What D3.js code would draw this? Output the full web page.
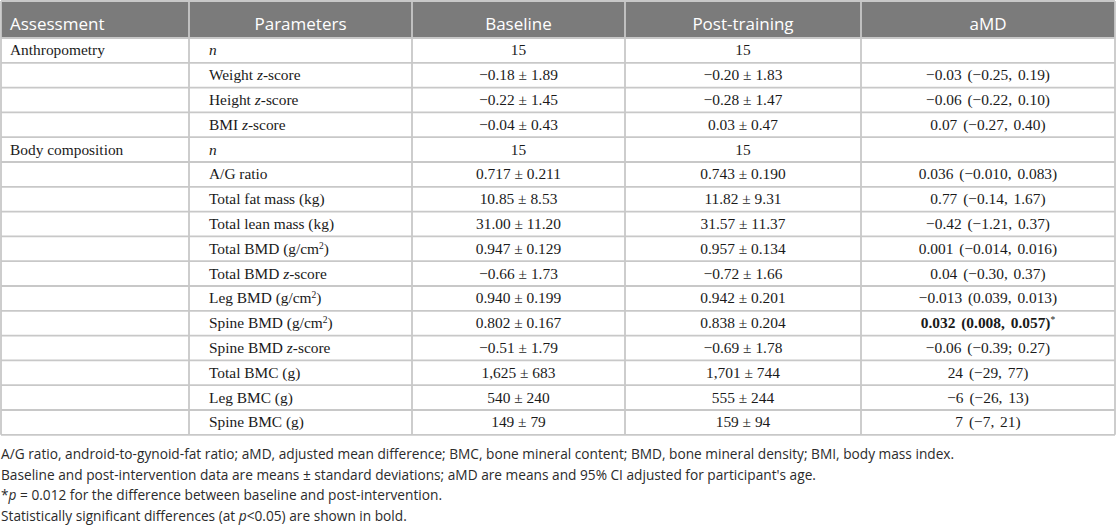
<!DOCTYPE html>
<html lang="en">
<head>
  <meta charset="UTF-8">
  <title>Body composition table</title>
  <script src="https://d3js.org/d3.v7.min.js"></script>
  <style>
    body { margin: 0; background: #fff; }
    .head { font-family: "Open Sans", sans-serif; font-size: 17px; fill: #fff; }
    .cell { font-family: "Liberation Serif", serif; font-size: 15.4px; fill: #1a1a1a; }
    .amd { word-spacing: 2px; }
    .note { font-family: "Open Sans", sans-serif; font-size: 13.7px; fill: #2b2b2b; }
  </style>
</head>
<body>
  <svg width="1116" height="525"></svg>

  <script>
    // markup: _x_ italic, ^x^ superscript, *x* bold
    const headers = ["Assessment", "Parameters", "Baseline", "Post-training", "aMD"];

    const assessments = ["Anthropometry", "", "", "",
      "Body composition", "", "", "", "", "", "", "", "", "", "", ""];

    const parameters = ["_n_", "Weight _z_-score", "Height _z_-score", "BMI _z_-score",
      "_n_", "A/G ratio", "Total fat mass (kg)", "Total lean mass (kg)",
      "Total BMD (g/cm^2^)", "Total BMD _z_-score", "Leg BMD (g/cm^2^)",
      "Spine BMD (g/cm^2^)", "Spine BMD _z_-score", "Total BMC (g)",
      "Leg BMC (g)", "Spine BMC (g)"];

    const baseline = ["15", "−0.18 ± 1.89", "−0.22 ± 1.45", "−0.04 ± 0.43",
      "15", "0.717 ± 0.211", "10.85 ± 8.53", "31.00 ± 11.20",
      "0.947 ± 0.129", "−0.66 ± 1.73", "0.940 ± 0.199",
      "0.802 ± 0.167", "−0.51 ± 1.79", "1,625 ± 683",
      "540 ± 240", "149 ± 79"];

    const postTraining = ["15", "−0.20 ± 1.83", "−0.28 ± 1.47", "0.03 ± 0.47",
      "15", "0.743 ± 0.190", "11.82 ± 9.31", "31.57 ± 11.37",
      "0.957 ± 0.134", "−0.72 ± 1.66", "0.942 ± 0.201",
      "0.838 ± 0.204", "−0.69 ± 1.78", "1,701 ± 744",
      "555 ± 244", "159 ± 94"];

    const amd = ["", "−0.03 (−0.25, 0.19)", "−0.06 (−0.22, 0.10)", "0.07 (−0.27, 0.40)",
      "", "0.036 (−0.010, 0.083)", "0.77 (−0.14, 1.67)", "−0.42 (−1.21, 0.37)",
      "0.001 (−0.014, 0.016)", "0.04 (−0.30, 0.37)", "−0.013 (0.039, 0.013)",
      "*0.032 (0.008, 0.057)*^*^", "−0.06 (−0.39; 0.27)", "24 (−29, 77)",
      "−6 (−26, 13)", "7 (−7, 21)"];

    const notes = [
      "A/G ratio, android-to-gynoid-fat ratio; aMD, adjusted mean difference; BMC, bone mineral content; BMD, bone mineral density; BMI, body mass index.",
      "Baseline and post-intervention data are means ± standard deviations; aMD are means and 95% CI adjusted for participant's age.",
      "*_p_ = 0.012 for the difference between baseline and post-intervention.",
      "Statistically significant differences (at _p_<0.05) are shown in bold."
    ];

    const colEdges = [1, 189, 412, 625, 861, 1115];
    const colAlign = ["start", "start", "middle", "middle", "middle"];
    const headAlign = ["start", "middle", "middle", "middle", "middle"];
    const indent = [9, 20, 0, 0, 0];

    const headH = 37, tableTop = 1, rowH = 24.8;
    const nRows = parameters.length;
    const tableBottom = tableTop + headH + rowH * nRows;

    const svg = d3.select("svg");

    const x = d3.scaleOrdinal().domain(headers).range(colEdges.slice(0, 5));
    const xEnd = d3.scaleOrdinal().domain(headers).range(colEdges.slice(1));
    const y = d3.scaleBand()
      .domain(d3.range(nRows))
      .range([tableTop + headH, tableBottom])
      .paddingInner(0);

    function textX(ci, align) {
      const col = headers[ci];
      if (align === "start") return x(col) + indent[ci];
      return (x(col) + xEnd(col)) / 2;
    }

    // parse simple markup into tspans
    function rich(sel, str) {
      const re = /(_[^_]+_|\^[^^]+\^|\*[^*]+\*)/g;
      const parts = str.split(re).filter(s => s.length);
      parts.forEach(p => {
        if (p.startsWith("_") && p.length > 2) {
          sel.append("tspan").attr("font-style", "italic").text(p.slice(1, -1));
        } else if (p.startsWith("^") && p.length > 2) {
          sel.append("tspan").attr("font-size", "0.62em")
            .attr("baseline-shift", "super").text(p.slice(1, -1));
        } else if (p.startsWith("*") && p.length > 2) {
          sel.append("tspan").attr("font-weight", "bold").text(p.slice(1, -1));
        } else {
          sel.append("tspan").text(p);
        }
      });
    }

    // header background
    svg.append("rect")
      .attr("x", colEdges[0]).attr("y", tableTop)
      .attr("width", colEdges[5] - colEdges[0]).attr("height", headH)
      .attr("fill", "#7b7b7b");

    svg.append("g").selectAll("text")
      .data(headers)
      .join("text")
      .attr("class", "head")
      .attr("x", (d, i) => textX(i, headAlign[i]))
      .attr("y", tableTop + headH - 8)
      .attr("text-anchor", (d, i) => headAlign[i])
      .text(d => d);

    // body cells
    const columns = [assessments, parameters, baseline, postTraining, amd];
    const cells = [];
    columns.forEach((col, ci) => col.forEach((v, ri) => {
      if (v) cells.push({ ci, ri, v });
    }));

    svg.append("g").selectAll("text")
      .data(cells)
      .join("text")
      .attr("class", d => d.ci === 4 ? "cell amd" : "cell")
      .attr("x", d => textX(d.ci, colAlign[d.ci]))
      .attr("y", d => y(d.ri) + y.bandwidth() / 2 + 5)
      .attr("text-anchor", d => colAlign[d.ci])
      .each(function(d) { rich(d3.select(this), d.v); });

    // grid lines
    const grid = svg.append("g")
      .attr("stroke", "#c8c8c8")
      .attr("stroke-width", 1.8);

    grid.selectAll("line.h")
      .data(d3.range(nRows + 1))
      .join("line")
      .attr("class", "h")
      .attr("x1", colEdges[0]).attr("x2", colEdges[5])
      .attr("y1", i => i === nRows ? tableBottom : y(i))
      .attr("y2", i => i === nRows ? tableBottom : y(i));

    grid.append("line")
      .attr("x1", colEdges[0]).attr("x2", colEdges[5])
      .attr("y1", tableTop).attr("y2", tableTop);

    grid.selectAll("line.v")
      .data(colEdges)
      .join("line")
      .attr("class", "v")
      .attr("x1", d => d).attr("x2", d => d)
      .attr("y1", tableTop).attr("y2", tableBottom);

    // footnotes
    svg.append("g").selectAll("text")
      .data(notes)
      .join("text")
      .attr("class", "note")
      .attr("x", 1)
      .attr("y", (d, i) => tableBottom + 24 + i * 20.7)
      .each(function(d) { rich(d3.select(this), d); });
  </script>
</body>
</html>
